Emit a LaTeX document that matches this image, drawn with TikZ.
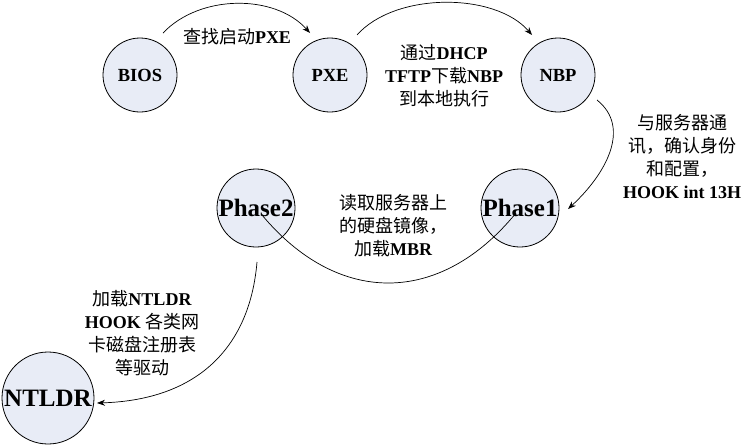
\documentclass[tikz,border=0pt]{standalone}
\usepackage{fontspec}
\setmainfont{Liberation Serif}
\newfontfamily\cjkfont{Noto Sans CJK SC}
\newcommand\zhs[1]{{\cjkfont\mdseries #1}}
\usetikzlibrary{arrows.meta}
\definecolor{cfill}{RGB}{232,236,246}
\begin{document}
\begin{tikzpicture}[x=1pt,y=-1pt,
  circ/.style={circle,draw=black,line width=0.8pt,fill=cfill,inner sep=0pt},
  small/.style={circ,minimum size=74pt},
  big/.style={circ,minimum size=78pt},
  ntl/.style={circ,minimum size=92pt},
  ntxt/.style={font=\bfseries\fontsize{18.5pt}{22pt}\selectfont,inner sep=0pt},
  btxt/.style={font=\bfseries\fontsize{25pt}{28pt}\selectfont,inner sep=0pt},
  lbl/.style={font=\bfseries\fontsize{18pt}{23pt}\selectfont,align=center,inner sep=0pt},
  conn/.style={line width=0.7pt,black},
  arr/.style={conn,-{Stealth[length=8pt,width=6pt]}}]
\useasboundingbox (0,0) rectangle (743,445);
% circles
\node[small] (BIOS) at (140,75) {};
\node[small] (PXE) at (330,75) {};
\node[small] (NBP) at (558,75) {};
\node[big] (Phase2) at (256,208) {};
\node[big] (Phase1) at (520,208) {};
\node[ntl] (NTLDR) at (48,398) {};
% connectors
\draw[arr] ([shift={(23,-42)}]BIOS.center) .. controls (200,-6) and (275,-6) .. ([shift={(-20,-42)}]PXE.center);
\draw[arr] ([shift={(27,-40)}]PXE.center) .. controls (395,-8) and (495,-8) .. ([shift={(-26,-40)}]NBP.center);
\draw[arr] ([shift={(39,25)}]NBP.center) .. controls (632,128) and (605,175) .. ([shift={(48,1)}]Phase1.center);
\draw[conn] ([shift={(-4,5)}]Phase1.center) .. controls (440,306) and (338,306) .. ([shift={(6,7)}]Phase2.center);
\draw[arr] ([shift={(1,54)}]Phase2.center) .. controls (250,345) and (200,400) .. ([shift={(49,5)}]NTLDR.center);
% circle texts
\node[ntxt] (tBIOS) at (BIOS) {BIOS};
\node[ntxt] (tPXE) at (PXE) {PXE};
\node[ntxt] (tNBP) at (NBP) {NBP};
\node[btxt] (tPhase2) at (Phase2) {Phase2};
\node[btxt] (tPhase1) at (Phase1) {Phase1};
\node[btxt] (tNTLDR) at (NTLDR) {NTLDR};
% labels
\node[lbl] (l1) at (237,37) {\zhs{查找启动}PXE};
\node[lbl] (l2) at (444,76) {\zhs{通过}DHCP\\TFTP\zhs{下载}NBP\\\zhs{到本地执行}};
\node[lbl] (l3) at (682,157) {\zhs{与服务器通}\\\zhs{讯，确认身份}\\\zhs{和配置，}\\HOOK int 13H};
\node[lbl] (l4) at (393,226) {\zhs{读取服务器上}\\\zhs{的硬盘镜像，}\\\zhs{加载}MBR};
\node[lbl] (l5) at (142,333) {\zhs{加载}NTLDR\\HOOK \zhs{各类网}\\\zhs{卡磁盘注册表}\\\zhs{等驱动}};
\end{tikzpicture}
\end{document}
